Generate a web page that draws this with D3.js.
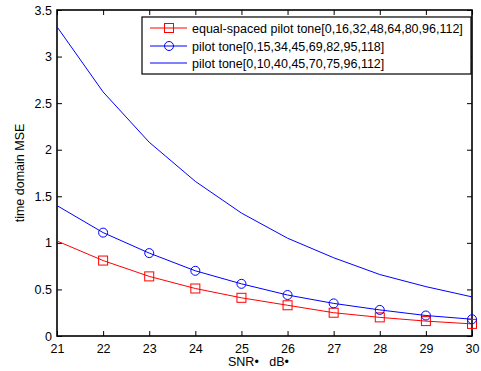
<!DOCTYPE html>
<html><head><meta charset="utf-8">
<script src="https://cdn.jsdelivr.net/npm/d3@7"></script>
<style>body{margin:0;background:#fff}svg{display:block}text{font-family:"Liberation Sans",Arial,sans-serif}</style>
</head><body><svg id="c" width="481" height="371"></svg>
<script>
const snr = [21,22,23,24,25,26,27,28,29,30];
const equalSpaced = [1.02,0.81,0.64,0.51,0.41,0.33,0.25,0.20,0.16,0.13];
const pilotA = [1.40,1.11,0.89,0.70,0.56,0.44,0.35,0.28,0.22,0.18];
const pilotB = [3.32,2.62,2.08,1.66,1.32,1.05,0.84,0.66,0.53,0.42];
const xTicks = [21,22,23,24,25,26,27,28,29,30];
const yTicks = [0,0.5,1,1.5,2,2.5,3,3.5];
const legendLabels = ["equal-spaced pilot tone[0,16,32,48,64,80,96,112]","pilot tone[0,15,34,45,69,82,95,118]","pilot tone[0,10,40,45,70,75,96,112]"];

const svg = d3.select("#c");
const L=57,R=472,T=10,B=336;
const x = d3.scaleLinear().domain([21,30]).range([L,R]);
const y = d3.scaleLinear().domain([0,3.5]).range([B,T]);

const fs = "12.5px";
const gx = svg.append("g").attr("transform",`translate(0,${B})`).call(d3.axisBottom(x).tickValues(xTicks).tickSize(-5).tickPadding(8).tickFormat(d3.format("d")));
const gxt = svg.append("g").attr("transform",`translate(0,${T})`).call(d3.axisTop(x).tickValues(xTicks).tickSize(-5).tickFormat(""));
const gy = svg.append("g").attr("transform",`translate(${L},0)`).call(d3.axisLeft(y).tickValues(yTicks).tickSize(-5).tickPadding(5).tickFormat(d=>d3.format("")(d)));
const gyr = svg.append("g").attr("transform",`translate(${R},0)`).call(d3.axisRight(y).tickValues(yTicks).tickSize(-5).tickFormat(""));
[gx,gxt,gy,gyr].forEach(g=>{g.select(".domain").remove();g.selectAll("line").attr("stroke","#000");g.selectAll("text").attr("font-size",fs).attr("fill","#000").attr("font-family","Liberation Sans, Arial, sans-serif");});
svg.append("rect").attr("x",L).attr("y",T).attr("width",R-L).attr("height",B-T).attr("fill","none").attr("stroke","#000").attr("stroke-width",1.6);

const line = d3.line().x((d,i)=>x(snr[i])).y(d=>y(d));
svg.append("path").datum(pilotB).attr("d",line).attr("fill","none").attr("stroke","#0000ff").attr("stroke-width",1);
svg.append("path").datum(pilotA).attr("d",line).attr("fill","none").attr("stroke","#0000ff").attr("stroke-width",1);
svg.append("path").datum(equalSpaced).attr("d",line).attr("fill","none").attr("stroke","#ff0000").attr("stroke-width",1);
svg.selectAll(".sq").data(equalSpaced.slice(1)).enter().append("rect").attr("x",(d,i)=>x(snr[i+1])-4.5).attr("y",d=>y(d)-4.5).attr("width",9).attr("height",9).attr("fill","none").attr("stroke","#ff0000");
svg.selectAll(".ci").data(pilotA.slice(1)).enter().append("circle").attr("cx",(d,i)=>x(snr[i+1])).attr("cy",d=>y(d)).attr("r",4.5).attr("fill","none").attr("stroke","#0000ff");

const lg = svg.append("g");
lg.append("rect").attr("x",142).attr("y",17).attr("width",329).attr("height",57).attr("fill","#fff").attr("stroke","#000").attr("stroke-width",1.2);
const rows=[28,46,63], cols=["#ff0000","#0000ff","#0000ff"];
rows.forEach((ry,i)=>{
  lg.append("line").attr("x1",150).attr("x2",187).attr("y1",ry).attr("y2",ry).attr("stroke",cols[i]);
  if(i===0) lg.append("rect").attr("x",169-4.5).attr("y",ry-4.5).attr("width",9).attr("height",9).attr("fill","none").attr("stroke",cols[i]);
  if(i===1) lg.append("circle").attr("cx",169).attr("cy",ry).attr("r",4.5).attr("fill","none").attr("stroke",cols[i]);
  lg.append("text").attr("x",192).attr("y",ry+4.5).attr("font-size",fs).text(legendLabels[i]);
});

svg.append("text").attr("x",228).attr("y",366).attr("font-size",fs).attr("xml:space","preserve").style("white-space","pre").text("SNR•   dB•");
svg.append("text").attr("transform","translate(24,173) rotate(-90)").attr("text-anchor","middle").attr("font-size",fs).text("time domain MSE");
</script></body></html>
